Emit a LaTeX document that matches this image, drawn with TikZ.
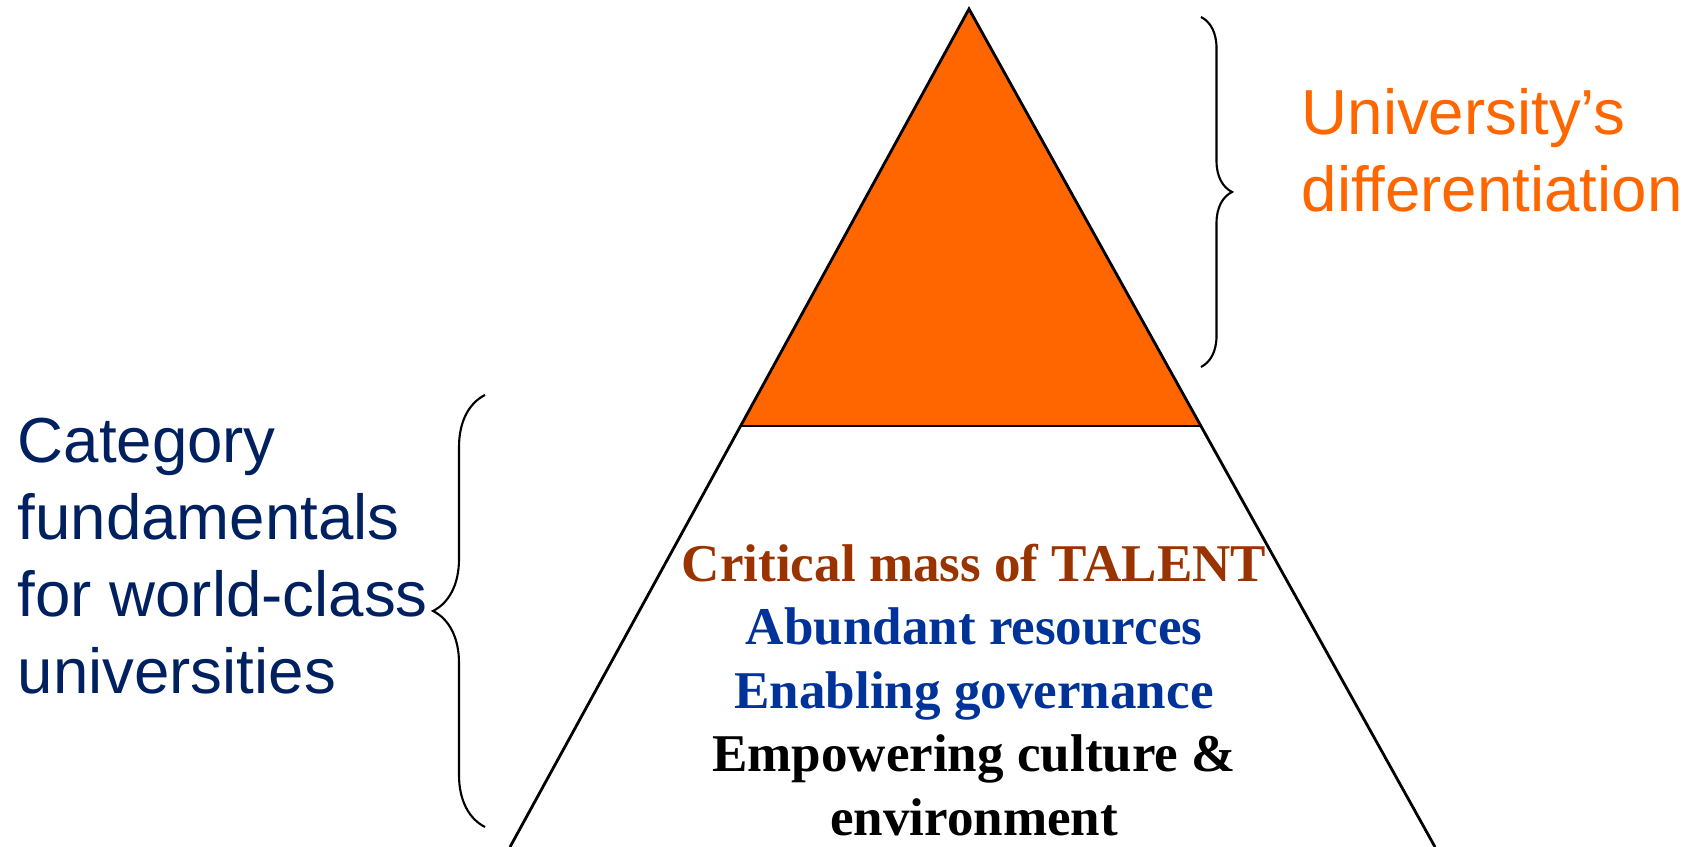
\documentclass[tikz,border=0pt]{standalone}
\usepackage{fontspec}
\setmainfont{Liberation Serif}
\newfontfamily\arialfont{Liberation Sans}
\usetikzlibrary{calc,decorations.pathreplacing}
\definecolor{pyrorange}{HTML}{FF6600}
\definecolor{pyrnavy}{HTML}{002060}
\definecolor{pyrbrown}{HTML}{993300}
\definecolor{pyrblue}{HTML}{003399}
\tikzset{
  sidetext/.style={inner sep=0pt,align=left,font=\arialfont\fontsize{18.1}{21.9}\selectfont},
  basetext/.style={inner sep=0pt,align=center,font=\bfseries\fontsize{15.1}{18.1}\selectfont},
  bracket/.style={decorate,decoration={brace,amplitude=#1},line width=0.6pt}
}

\begin{document}
\begin{tikzpicture}[scale=1.0]
\useasboundingbox (0,0) rectangle (16.86,8.47);
\coordinate[] (T) at (9.69,8.38);
\coordinate[] (L) at (5.10,0);
\coordinate[] (R) at (14.35,0);
\coordinate[] (OL) at ($(T)!0.4976!(L)$);
\coordinate[] (OR) at ($(T)!0.4976!(R)$);
\coordinate[] (RB1) at (12.01,8.30);
\coordinate[] (RB2) at (12.01,4.80);
\coordinate[] (LB1) at (4.85,0.20);
\coordinate[] (LB2) at (4.85,4.52);
\fill [pyrorange] (T) -- (OL) -- (OR) -- cycle;
\draw [line width=0.8pt] (L) -- (T) -- (R);
\draw [line width=0.8pt] (OL) -- (OR);
\draw [bracket=0.31cm] (RB1) -- (RB2);
\draw [bracket=0.52cm] (LB1) -- (LB2);
\node[sidetext,text=pyrnavy,anchor=north west] (cat) at (0.17,4.30)
  {Category\\fundamentals\\for world-class\\universities};
\node[sidetext,text=pyrorange,anchor=north west] (diff) at (13.01,7.59)
  {University’s\\differentiation};
\node[basetext,anchor=north] (pillars) at (9.74,3.04)
  {\textcolor{pyrbrown}{Critical mass of TALENT}\\
   \textcolor{pyrblue}{Abundant resources}\\
   \textcolor{pyrblue}{Enabling governance}\\
   Empowering culture \&\\
   environment};
\end{tikzpicture}
\end{document}
